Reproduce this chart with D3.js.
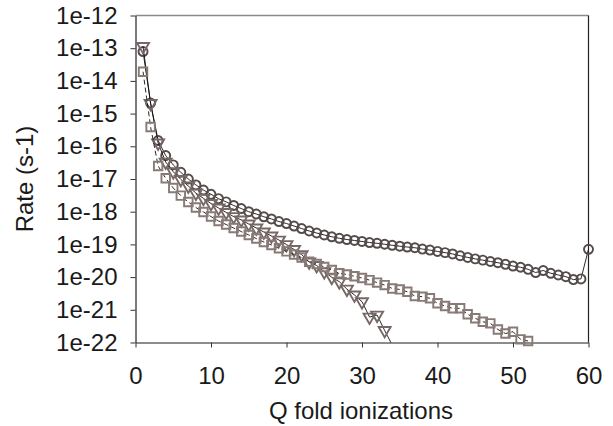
<!DOCTYPE html>
<html>
<head>
<meta charset="utf-8">
<script src="https://cdn.jsdelivr.net/npm/d3@7"></script>
<style>
  html, body { margin: 0; padding: 0; background: #fff; }
  svg { display: block; }
  text { font-family: "Liberation Sans", Arial, sans-serif; fill: #1a1a1a; }
</style>
</head>
<body>
<script>
// Ionization rate per fold Q, three calculations
const foldsCircle = d3.range(1, 61);
const rateCircle = [
  7.9e-14, 2.1e-15, 1.5e-16, 5.2e-17, 2.7e-17, 1.6e-17, 1.0e-17, 6.6e-18, 4.6e-18, 3.4e-18,
  2.5e-18, 2.0e-18, 1.55e-18, 1.25e-18, 1.0e-18, 8.5e-19, 7.0e-19, 6.0e-19, 5.0e-19, 4.35e-19,
  3.65e-19, 3.06e-19, 2.57e-19, 2.23e-19, 1.94e-19, 1.71e-19, 1.54e-19, 1.41e-19, 1.32e-19, 1.23e-19,
  1.14e-19, 1.08e-19, 1.01e-19, 9.4e-20, 8.8e-20, 8.3e-20, 7.9e-20, 7.2e-20, 6.7e-20, 6.1e-20,
  5.6e-20, 5.1e-20, 4.5e-20, 4.0e-20, 3.6e-20, 3.3e-20, 3.0e-20, 2.75e-20, 2.46e-20, 2.18e-20,
  2.0e-20, 1.73e-20, 1.38e-20, 1.59e-20, 1.31e-20, 1.16e-20, 1.03e-20, 8.4e-21, 8.8e-21, 7.1e-20
];

const foldsTriangle = d3.range(1, 35);
const rateTriangle = [
  1.13e-13, 2.04e-15, 1.26e-16, 3.3e-17, 1.67e-17, 9.7e-18, 6.1e-18, 3.7e-18, 2.57e-18, 1.78e-18,
  1.30e-18, 9.5e-19, 7.1e-19, 5.6e-19, 4.2e-19, 3.17e-19, 2.39e-19, 1.81e-19, 1.36e-19, 9.9e-20,
  7.0e-20, 4.9e-20, 2.9e-20, 2.26e-20, 1.46e-20, 9.9e-21, 7.2e-21, 4.3e-21, 2.84e-21, 1.77e-21,
  6.0e-22, 6.9e-22, 2.33e-22, 8.4e-23
];

const foldsSquare = d3.range(1, 53);
const rateSquare = [
  1.91e-14, 3.9e-16, 2.5e-17, 1.05e-17, 5.3e-18, 3.1e-18, 1.98e-18, 1.34e-18, 9.8e-19, 7.1e-19,
  5.2e-19, 4.06e-19, 3.17e-19, 2.48e-19, 1.94e-19, 1.51e-19, 1.18e-19, 9.6e-20, 7.6e-20, 6.1e-20,
  4.9e-20, 3.97e-20, 2.96e-20, 2.52e-20, 2.04e-20, 1.65e-20, 1.31e-20, 1.20e-20, 1.06e-20, 9.4e-21,
  8.1e-21, 6.8e-21, 5.7e-21, 4.5e-21, 4.2e-21, 3.57e-21, 2.64e-21, 2.52e-21, 2.25e-21, 1.58e-21,
  1.31e-21, 1.11e-21, 1.11e-21, 7.3e-22, 5.5e-22, 4.3e-22, 3.86e-22, 2.5e-22, 1.88e-22, 2.14e-22,
  1.25e-22, 1.11e-22
];

const xTicks = [0, 10, 20, 30, 40, 50, 60];
const yTicks = [1e-12, 1e-13, 1e-14, 1e-15, 1e-16, 1e-17, 1e-18, 1e-19, 1e-20, 1e-21, 1e-22];
const xTitle = "Q fold ionizations";
const yTitle = "Rate (s-1)";

const W = 613, H = 426;
const plotL = 135.5, plotR = 588.5, plotT = 15.5, plotB = 342.5;

const svg = d3.select("body").append("svg").attr("width", W).attr("height", H);

const x = d3.scaleLinear().domain([0, 60]).range([plotL, plotR]);
const y = d3.scaleLog().domain([1e-22, 1e-12]).range([plotB, plotT]);

svg.append("defs").append("clipPath").attr("id", "plotClip")
  .append("rect").attr("x", plotL).attr("y", plotT).attr("width", plotR - plotL).attr("height", plotB - plotT);

// frame: top and right edges
svg.append("line").attr("x1", plotL).attr("x2", plotR).attr("y1", plotT).attr("y2", plotT)
  .attr("stroke", "#8a8a8a").attr("stroke-width", 1.6);
svg.append("line").attr("x1", plotR).attr("x2", plotR).attr("y1", plotT).attr("y2", plotB)
  .attr("stroke", "#222").attr("stroke-width", 1.2);

const fmt = d => "1e" + Math.round(Math.log10(d));

const yAxis = svg.append("g").attr("transform", `translate(${plotL},0)`)
  .call(d3.axisLeft(y).tickValues(yTicks).tickFormat(fmt).tickSize(5).tickPadding(13).tickSizeOuter(0));
const xAxis = svg.append("g").attr("transform", `translate(0,${plotB})`)
  .call(d3.axisBottom(x).tickValues(xTicks).tickSize(5).tickPadding(19).tickSizeOuter(0));

yAxis.select(".domain").attr("stroke", "#222").attr("stroke-width", 1.2);
xAxis.select(".domain").attr("stroke", "#666").attr("stroke-width", 1.4);
[yAxis, xAxis].forEach(a => {
  a.selectAll(".tick line").attr("stroke", "#333").attr("stroke-width", 1);
  a.selectAll(".tick text").attr("font-size", 24).attr("fill", "#1a1a1a")
    .attr("font-family", '"Liberation Sans", Arial, sans-serif');
});

svg.append("text").attr("x", (plotL + plotR) / 2 - 1).attr("y", 419)
  .attr("text-anchor", "middle").attr("font-size", 24).text(xTitle);
svg.append("text").attr("transform", `translate(33,${(plotT + plotB) / 2}) rotate(-90)`)
  .attr("text-anchor", "middle").attr("font-size", 24).text(yTitle);

const series = [
  { q: foldsCircle, r: rateCircle, symbol: d3.symbolCircle, size: 64, rot: 0, color: "#564b4b", dash: null },
  { q: foldsTriangle, r: rateTriangle, symbol: d3.symbolTriangle, size: 62, rot: 180, color: "#766866", dash: null },
  { q: foldsSquare, r: rateSquare, symbol: d3.symbolSquare, size: 72, rot: 0, color: "#887a77", dash: "5,3" }
];

series.forEach(s => {
  const pts = s.q.map((q, i) => ({ q, r: s.r[i] }));
  const line = d3.line().x(d => x(d.q)).y(d => y(d.r));
  svg.append("path").datum(pts)
    .attr("clip-path", "url(#plotClip)")
    .attr("d", line).attr("fill", "none")
    .attr("stroke", "#111").attr("stroke-width", 0.9)
    .attr("stroke-dasharray", s.dash);
  const sym = d3.symbol().type(s.symbol).size(s.size);
  svg.append("g").selectAll("path").data(pts.filter(d => d.r >= 1e-22)).join("path")
    .attr("transform", d => `translate(${x(d.q)},${y(d.r)}) rotate(${s.rot})`)
    .attr("d", sym).attr("fill", "none")
    .attr("stroke", s.color).attr("stroke-width", 1.9);
});
</script>
</body>
</html>
